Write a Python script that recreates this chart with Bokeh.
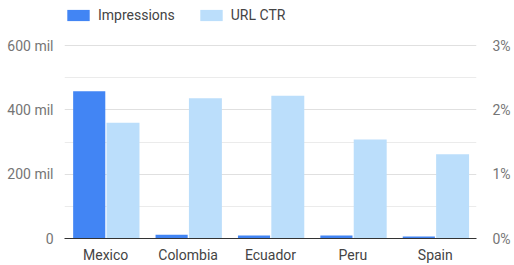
from bokeh.plotting import figure
from bokeh.models import Range1d, LinearAxis, FactorRange, Legend, LegendItem, FixedTicker
from bokeh.transform import dodge
from bokeh.embed import file_html
from bokeh.resources import INLINE
from bokeh.models import ColumnDataSource

countries = ["Mexico", "Colombia", "Ecuador", "Peru", "Spain"]
impressions_mil = [458, 12, 9, 9, 6]
url_ctr_pct = [1.80, 2.18, 2.22, 1.54, 1.31]
left_ticks = [0, 200, 400, 600]
left_labels = ["0", "200 mil", "400 mil", "600 mil"]
right_ticks = [0, 1, 2, 3]
right_labels = ["0%", "1%", "2%", "3%"]

src = ColumnDataSource(dict(c=countries, imp=impressions_mil, ctr=url_ctr_pct))

FONT = "Roboto"
# frame spans to the top edge so the legend can sit inside it; ranges extended accordingly
TOP_EXT = 238 / 193
p = figure(x_range=FactorRange(*countries, range_padding=0), y_range=Range1d(0, 600 * TOP_EXT),
           width=514, height=265, output_backend="svg", toolbar_location=None,
           min_border_left=64, min_border_right=38, min_border_top=0, min_border_bottom=27)
p.outline_line_color = None
p.extra_y_ranges = {"ctr": Range1d(0, 3 * TOP_EXT)}

r1 = p.vbar(x=dodge("c", -0.2, range=p.x_range), top="imp", width=0.39, source=src,
            fill_color="#4285F4", line_color=None)
r2 = p.vbar(x=dodge("c", 0.21, range=p.x_range), top="ctr", width=0.40, source=src,
            fill_color="#BBDEFB", line_color=None, y_range_name="ctr")

def clean(ax):
    ax.major_tick_line_color = None
    ax.minor_tick_line_color = None
    ax.major_tick_out = 0
    ax.major_tick_in = 0
    ax.minor_tick_out = 0
    ax.minor_tick_in = 0
    ax.major_label_text_font = FONT
    ax.major_label_text_font_size = "14px"

# axes
xa = p.xaxis[0]
clean(xa)
xa.axis_line_color = "#333333"
xa.axis_line_width = 1
xa.major_label_text_color = "#444444"
xa.major_label_standoff = 8
p.xgrid.grid_line_color = None

ya = p.yaxis[0]
ya.ticker = FixedTicker(ticks=left_ticks, minor_ticks=[100, 300, 500])
ya.major_label_overrides = {t: l for t, l in zip(left_ticks, left_labels)}
clean(ya)
ya.axis_line_color = None
ya.major_label_text_color = "#757575"
ya.major_label_standoff = 11

p.ygrid.ticker = FixedTicker(ticks=left_ticks, minor_ticks=[100, 300, 500])
p.ygrid.grid_line_color = "#e0e0e0"
p.ygrid.minor_grid_line_color = "#ebebeb"

ra = LinearAxis(y_range_name="ctr", ticker=FixedTicker(ticks=right_ticks))
ra.major_label_overrides = {t: l for t, l in zip(right_ticks, right_labels)}
clean(ra)
ra.axis_line_color = None
ra.major_label_text_color = "#757575"
ra.major_label_standoff = 16
p.add_layout(ra, "right")

legend = Legend(items=[LegendItem(label="Impressions", renderers=[r1]),
                       LegendItem(label="URL CTR", renderers=[r2])],
                orientation="horizontal", location=(0, 215),
                glyph_width=28, glyph_height=14, label_standoff=6, spacing=22,
                padding=0, margin=0, border_line_color=None, background_fill_alpha=0,
                label_text_font=FONT, label_text_font_size="14px", label_text_color="#444444")
p.add_layout(legend)

open("out.html", "w").write(file_html(p, INLINE))
